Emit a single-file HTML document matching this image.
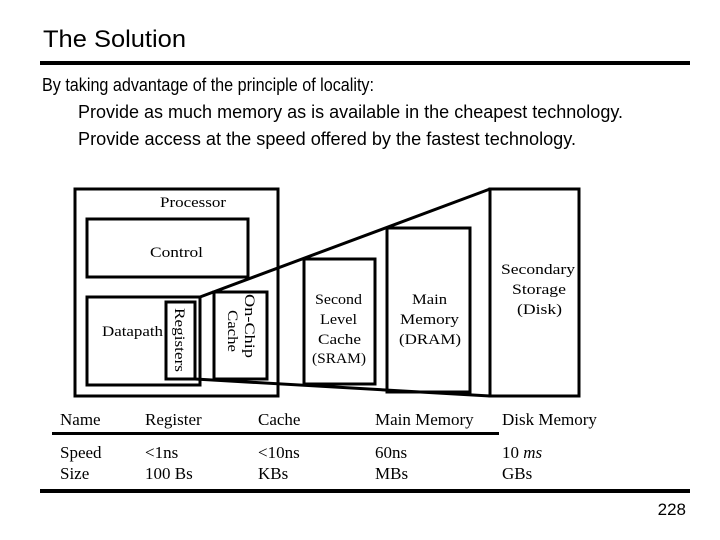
<!DOCTYPE html>
<html><head><meta charset="utf-8"><style>
html,body{margin:0;padding:0;background:#fff}
svg{display:block}
.a{font-family:"Liberation Sans",Arial,sans-serif;fill:#000}
.t{font-family:"Liberation Serif","Times New Roman",serif;fill:#000}
</style></head><body>
<svg width="720" height="540" viewBox="0 0 720 540" xmlns="http://www.w3.org/2000/svg">
<text class="a" x="43" y="47" font-size="24" textLength="143" lengthAdjust="spacingAndGlyphs">The Solution</text>
<rect x="40" y="61" width="650" height="4" fill="#000"/>
<text class="a" x="42" y="91" font-size="18" textLength="332" lengthAdjust="spacingAndGlyphs">By taking advantage of the principle of locality:</text>
<text class="a" x="78" y="118" font-size="18" textLength="545" lengthAdjust="spacingAndGlyphs">Provide as much memory as is available in the cheapest technology.</text>
<text class="a" x="78" y="145" font-size="18" textLength="498" lengthAdjust="spacingAndGlyphs">Provide access at the speed offered by the fastest technology.</text>
<g fill="none" stroke="#000" stroke-width="3">
<rect x="75" y="189" width="203" height="207"/>
<rect x="87" y="219" width="161" height="58"/>
<rect x="87" y="297" width="113" height="88"/>
<rect x="166" y="302" width="29" height="77"/>
<rect x="214" y="292" width="53" height="87"/>
<rect x="304" y="259" width="71" height="125"/>
<rect x="387" y="228" width="83" height="164"/>
<rect x="490" y="189" width="89" height="207"/>
<line x1="200" y1="297" x2="490" y2="189"/>
<line x1="195" y1="379" x2="490" y2="396"/>
</g>
<g class="t" font-size="15">
<text x="160" y="207" textLength="66" lengthAdjust="spacingAndGlyphs">Processor</text>
<text x="150" y="257" textLength="53" lengthAdjust="spacingAndGlyphs">Control</text>
<text x="102" y="336" textLength="61" lengthAdjust="spacingAndGlyphs">Datapath</text>
<text transform="translate(175,308) rotate(90)" textLength="64" lengthAdjust="spacingAndGlyphs">Registers</text>
<text transform="translate(245,294) rotate(90)" textLength="64" lengthAdjust="spacingAndGlyphs">On-Chip</text>
<text transform="translate(228,310) rotate(90)" textLength="42" lengthAdjust="spacingAndGlyphs">Cache</text>
<text x="315" y="304" textLength="47" lengthAdjust="spacingAndGlyphs">Second</text>
<text x="320" y="324" textLength="37" lengthAdjust="spacingAndGlyphs">Level</text>
<text x="318" y="344" textLength="43" lengthAdjust="spacingAndGlyphs">Cache</text>
<text x="312" y="363" textLength="54" lengthAdjust="spacingAndGlyphs">(SRAM)</text>
<text x="412" y="304" textLength="35" lengthAdjust="spacingAndGlyphs">Main</text>
<text x="400" y="324" textLength="59" lengthAdjust="spacingAndGlyphs">Memory</text>
<text x="399" y="344" textLength="62" lengthAdjust="spacingAndGlyphs">(DRAM)</text>
<text x="501" y="274" textLength="74" lengthAdjust="spacingAndGlyphs">Secondary</text>
<text x="512" y="294" textLength="54" lengthAdjust="spacingAndGlyphs">Storage</text>
<text x="517" y="314" textLength="45" lengthAdjust="spacingAndGlyphs">(Disk)</text>
</g>
<g class="t" font-size="17">
<text x="60" y="425">Name</text><text x="145" y="425">Register</text><text x="258" y="425">Cache</text><text x="375" y="425">Main Memory</text><text x="502" y="425">Disk Memory</text>
<text x="60" y="458">Speed</text><text x="145" y="458">&lt;1ns</text><text x="258" y="458">&lt;10ns</text><text x="375" y="458">60ns</text><text x="502" y="458">10 <tspan font-style="italic">ms</tspan></text>
<text x="60" y="479">Size</text><text x="145" y="479">100 Bs</text><text x="258" y="479">KBs</text><text x="375" y="479">MBs</text><text x="502" y="479">GBs</text>
</g>
<rect x="52" y="432" width="447" height="3" fill="#000"/>
<rect x="40" y="489" width="650" height="4" fill="#000"/>
<text class="a" x="686" y="515" font-size="17" text-anchor="end">228</text>
</svg>
</body></html>
